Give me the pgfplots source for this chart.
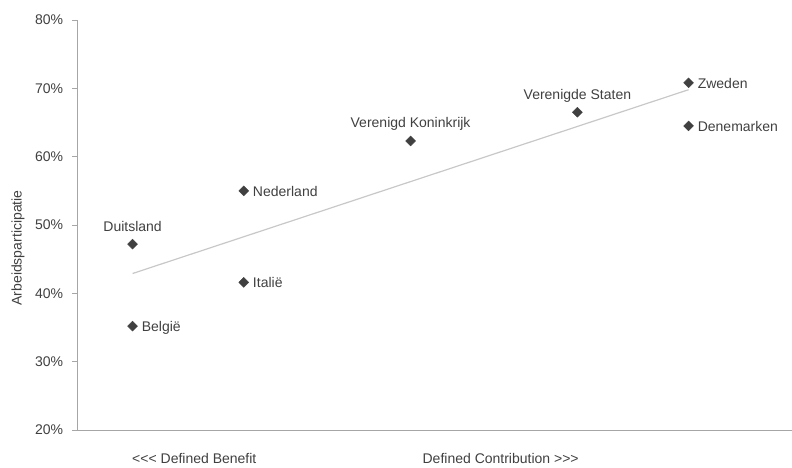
\documentclass[border=0pt]{standalone}
\usepackage{pgfplots}
\pgfplotsset{compat=1.18}
\usepackage{fontspec}
\setmainfont{Liberation Sans}

\definecolor{txt}{HTML}{404040}
\definecolor{axisgray}{HTML}{A6A6A6}
\definecolor{trendgray}{HTML}{C8C8C8}

\begin{document}
\fontsize{14bp}{16bp}\selectfont
\begin{tikzpicture}
  \begin{axis}[
    scale only axis,
    width=715bp, height=410bp,
    xmin=0, xmax=12.86,
    ymin=20, ymax=80,
    axis x line*=bottom,
    axis y line*=left,
    axis line style={axisgray, line width=0.9bp},
    ytick={20,30,...,80},
    yticklabel={\pgfmathprintnumber{\tick}\%},
    /pgf/number format/assume math mode=true,
    tick align=outside,
    y tick style={axisgray, line width=0.9bp},
    major tick length=5bp,
    xtick={2.11,7.62},
    xticklabels={{<\kern0pt<\kern0pt< Defined Benefit},{Defined Contribution >\kern0pt>\kern0pt>}},
    x tick style={draw=none},
    xticklabel style={inner sep=0pt, yshift=-18bp},
    yticklabel style={xshift=-4bp},
    tick label style={font=\fontsize{14bp}{16bp}\selectfont, text=txt},
    ylabel={Arbeidsparticipatie},
    every axis y label/.style={at={(rel axis cs:0,0.444)}, xshift=-59bp,
      rotate=90, anchor=center, font=\fontsize{14bp}{16bp}\selectfont, text=txt},
    clip=false,
  ]
    % trendline
    \addplot[trendgray, line width=1.2bp, mark=none] coordinates {(1,42.9) (11,69.8)};

    % labels to the right
    \addplot[only marks, mark=square*, mark size=3.5bp,
      mark options={rotate=45, fill=txt, draw=txt},
      point meta=explicit symbolic,
      nodes near coords,
      nodes near coords style={anchor=base west, inner sep=0pt, xshift=9bp,
        yshift=-5.5bp, text=txt, font=\fontsize{14bp}{16bp}\selectfont}]
      table[col sep=comma, meta=label] {
x,y,label
1,35.2,België
3,55.0,Nederland
3,41.6,Italië
11,70.8,Zweden
11,64.5,Denemarken
};

    % labels above
    \addplot[only marks, mark=square*, mark size=3.5bp,
      mark options={rotate=45, fill=txt, draw=txt},
      point meta=explicit symbolic,
      nodes near coords,
      nodes near coords style={anchor=base, inner sep=0pt,
        yshift=13bp, text=txt, font=\fontsize{14bp}{16bp}\selectfont}]
      table[col sep=comma, meta=label] {
x,y,label
1,47.2,Duitsland
6,62.3,Verenigd Koninkrijk
9,66.5,Verenigde Staten
};
    \coordinate (bl) at (rel axis cs:0,0);
    \coordinate (tr) at (rel axis cs:1,1);
  \end{axis}
  \pgfresetboundingbox
  \path ([xshift=-77bp,yshift=-38bp]bl) rectangle ([yshift=20bp]tr);
\end{tikzpicture}
\end{document}
